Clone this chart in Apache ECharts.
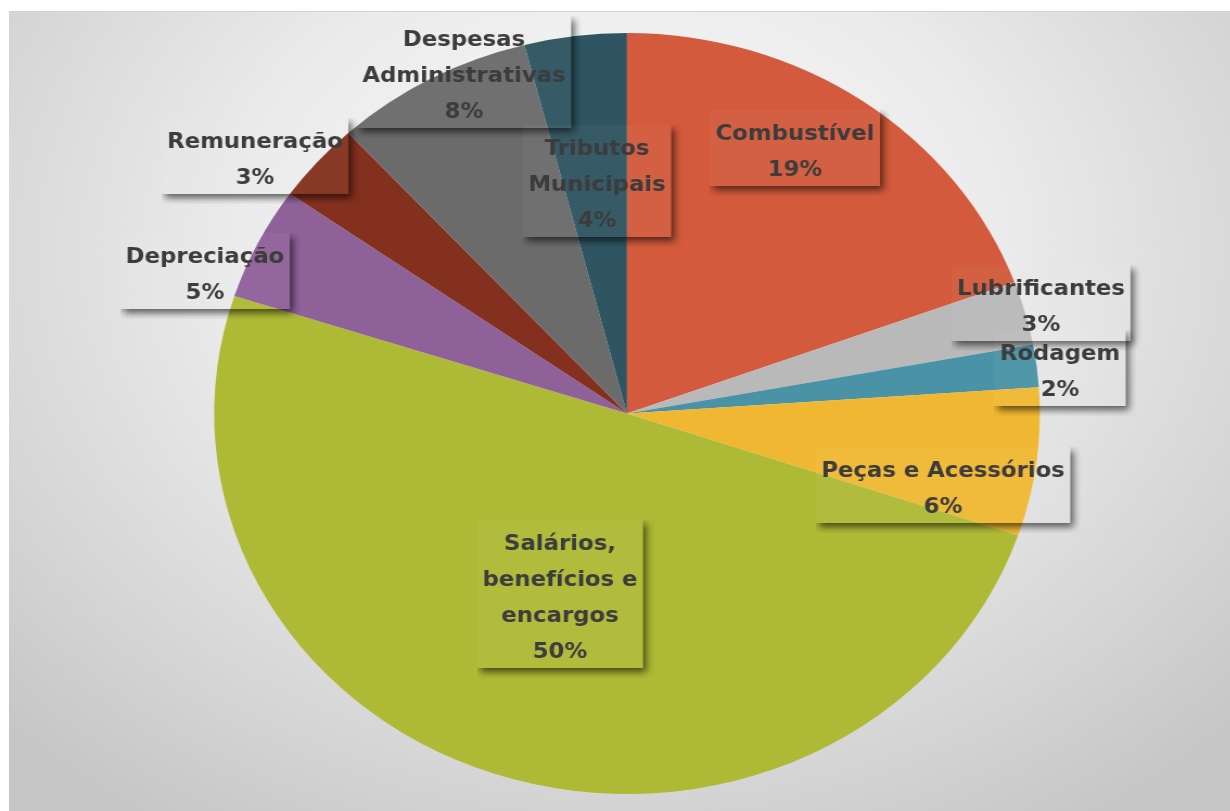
<!DOCTYPE html>
<html lang="pt">
<head>
    <meta charset="UTF-8">
    <title>Custos</title>
    <style>
        html, body { margin: 0; padding: 0; background: #fff; }
        .bg {
            position: absolute; left: 9px; top: 11px; width: 1221px; height: 800px;
            border-top: 1px solid #d2d2d2;
            background: radial-gradient(ellipse 70% 85% at 50% 30%, #fbfbfb 0%, #ebebeb 45%, #d4d4d4 80%, #c6c6c6 100%);
        }
        .box {
            position: absolute; left: 0; top: 0; width: 1134px; height: 811px;
            transform: scaleX(1.085); transform-origin: 0 0;
        }
    </style>
</head>
<body>
    <div class="bg"></div>
    <div class="box"></div>
    <script src="https://cdn.jsdelivr.net/npm/echarts@6/dist/echarts.min.js"></script>
    <script>
        // o gráfico original está esticado na horizontal
        var SX = 1.085;

        var categories = ['Combustível', 'Lubrificantes', 'Rodagem', 'Peças e Acessórios',
            'Salários, benefícios e encargos', 'Depreciação', 'Remuneração',
            'Despesas Administrativas', 'Tributos Municipais'];
        var labelNames = ['Combustível', 'Lubrificantes', 'Rodagem', 'Peças e Acessórios',
            'Salários,\nbenefícios e\nencargos', 'Depreciação', 'Remuneração',
            'Despesas\nAdministrativas', 'Tributos\nMunicipais'];
        var values = [19.4, 2.7, 1.8, 6.3, 49.8, 4.8, 3.4, 7.8, 4.0];
        var colors = ['#d35a3c', '#b9b9b9', '#4a93a6', '#f0b832', '#aeb935',
            '#8f6199', '#84301f', '#6b6b6b', '#2e5561'];

        // centro das caixas de rótulo (coordenadas da página)
        var labelPos = [[795, 148], [1041, 303], [1060, 368], [943, 485], [560, 594],
            [205, 271], [255, 156], [464, 72], [597, 181]];

        var FONT = 'bold 21px "DejaVu Sans"';
        var LH = 36, PADX = 5, PADY = 2, SH = 10;
        var total = values.reduce(function (a, b) { return a + b; }, 0);

        // caixa do rótulo: transparente, com sombra só para fora
        function labelBox(text) {
            var m = document.createElement('canvas').getContext('2d');
            m.font = FONT;
            var lines = text.split('\n');
            var tw = 0;
            lines.forEach(function (l) { tw = Math.max(tw, m.measureText(l).width); });
            var w = Math.ceil(tw) + PADX * 2, h = lines.length * LH + PADY * 2;
            var c = document.createElement('canvas');
            c.width = w + SH; c.height = h + SH;
            var ctx = c.getContext('2d');
            ctx.shadowColor = 'rgba(0,0,0,0.6)';
            ctx.shadowBlur = 7;
            ctx.shadowOffsetX = 3 + 2000;
            ctx.shadowOffsetY = 4;
            ctx.fillStyle = '#000';
            ctx.fillRect(-2000, 0, w, h);
            ctx.shadowColor = 'transparent';
            ctx.clearRect(0, 0, w, h);
            ctx.fillStyle = 'rgba(255,255,255,0.04)';
            ctx.fillRect(0, 0, w, h);
            return c;
        }

        var myChart = echarts.init(document.getElementsByClassName('box')[0]);

        var data = [];
        categories.forEach(function (name, i) {
            var txt = labelNames[i] + '\n' + Math.round(values[i] / total * 100) + '%';
            data.push({
                name: name,
                value: values[i],
                itemStyle: { color: colors[i] },
                label: { backgroundColor: { image: labelBox(txt) } }
            });
        });

        var option = {
            animation: false,
            series: [{
                type: 'pie',
                center: [627 / SX, 413.5],
                radius: 380.5,
                startAngle: 90,
                clockwise: true,
                data: data,
                itemStyle: { borderWidth: 0 },
                emphasis: { disabled: true },
                labelLine: { show: false },
                label: {
                    show: true,
                    position: 'inside',
                    formatter: function (p) {
                        return labelNames[p.dataIndex] + '\n' + Math.round(p.percent) + '%';
                    },
                    fontFamily: 'DejaVu Sans',
                    fontWeight: 'bold',
                    fontSize: 21,
                    lineHeight: LH,
                    color: '#3c3c3c',
                    align: 'center',
                    padding: [PADY, PADX + SH, PADY + SH, PADX]
                },
                labelLayout: function (params) {
                    var p = labelPos[params.dataIndex];
                    // a área da sombra fica à direita/abaixo: compensar
                    return {
                        x: p[0] / SX + SH / 2,
                        y: p[1] + SH / 2,
                        align: 'center',
                        verticalAlign: 'middle'
                    };
                }
            }]
        };
        myChart.setOption(option);
    </script>
</body>
</html>
